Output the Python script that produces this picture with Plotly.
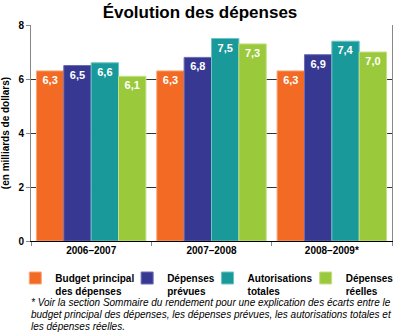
import plotly.graph_objects as go

categories = ["2006–2007", "2007–2008", "2008–2009*"]
series_names = ["Budget principal<br>des dépenses", "Dépenses<br>prévues", "Autorisations<br>totales", "Dépenses<br>réelles"]
budget_principal = [6.3, 6.3, 6.3]
depenses_prevues = [6.5, 6.8, 6.9]
autorisations_totales = [6.6, 7.5, 7.4]
depenses_reelles = [6.1, 7.3, 7.0]
colors = ["#F26A23", "#363892", "#19999A", "#9BC93C"]
edge_colors = ["#F8A878", "#6A6CB4", "#6CC4C4", "#C4E08A"]
y_ticks = [0, 2, 4, 6, 8]
footnote_lines = [
    "* Voir la section Sommaire du rendement pour une explication des écarts entre le",
    "budget principal des dépenses, les dépenses prévues, les autorisations totales et",
    "les dépenses réelles.",
]

values = [budget_principal, depenses_prevues, autorisations_totales, depenses_reelles]

FONT = "Liberation Sans, Arial, sans-serif"
W, H = 400, 334
ML, MR, MT, MB = 31, 1, 25, 93
PW, PH = W - ML - MR, H - MT - MB

def px_x(x):
    return (x - ML) / PW

def px_y(y):
    return (H - MB - y) / PH

legend_ids = ["legend", "legend2", "legend3", "legend4"]
legend_left_px = [15, 129, 211, 311]

fig = go.Figure()
for name, vals, c, ec, lid in zip(series_names, values, colors, edge_colors, legend_ids):
    fig.add_trace(go.Bar(
        x=categories, y=vals, name=f"<b>{name.replace('<br>', '</b><br><b>')}</b>",
        marker=dict(color=c, line=dict(color=ec, width=1)),
        text=[f"<b>{v:.1f}</b>".replace(".", ",") for v in vals],
        textposition="inside", insidetextanchor="end", textangle=0,
        textfont=dict(color="white", size=11, family=FONT),
        legend=lid,
    ))

legend_common = dict(orientation="v", xanchor="left", yanchor="top",
                     y=px_y(265), font=dict(size=10, family=FONT, color="black"),
                     bgcolor="rgba(0,0,0,0)", valign="top", borderwidth=0,
                     itemclick=False, itemdoubleclick=False)

layout_legends = {lid: dict(x=px_x(lx), **legend_common) for lid, lx in zip(legend_ids, legend_left_px)}

fig.update_layout(
    width=W, height=H,
    margin=dict(l=ML, r=MR, t=MT, b=MB),
    paper_bgcolor="white", plot_bgcolor="white",
    barmode="group", bargap=0.09, bargroupgap=0,
    font=dict(family=FONT, color="black"),
    title=dict(text="<b>Évolution des dépenses</b>", x=0.5, xanchor="center",
               y=1 - 12 / H, yanchor="middle", font=dict(size=17, family=FONT)),
    showlegend=True,
    xaxis=dict(type="category", tickson="boundaries", ticks="outside", ticklen=4,
               tickcolor="#888888", showline=True, linecolor="black", linewidth=1,
               tickfont=dict(size=10, family=FONT), showgrid=False,
               tickvals=categories, ticktext=[f"<b>{c}</b>" for c in categories]),
    yaxis=dict(range=[0, 8], tickvals=y_ticks, ticktext=[f"<b>{t}</b>" for t in y_ticks],
               ticks="outside", ticklen=4, tickcolor="#888888",
               showline=True, linecolor="#888888", linewidth=1, mirror=True,
               showgrid=True, gridcolor="#333333", gridwidth=1,
               zeroline=True, zerolinecolor="black", zerolinewidth=1,
               tickfont=dict(size=10, family=FONT),
               title=dict(text="<b>(en milliards de dollars)</b>", font=dict(size=10, family=FONT),
                          standoff=7)),
    **layout_legends,
)

for i, line in enumerate(footnote_lines):
    fig.add_annotation(
        xref="paper", yref="paper", x=px_x(29), y=px_y(302 + 12 * i),
        xanchor="left", yanchor="middle", align="left", showarrow=False,
        text=f"<i>{line}</i>",
        font=dict(size=10.0, family=FONT, color="black"),
    )

fig.write_html("out.html")
